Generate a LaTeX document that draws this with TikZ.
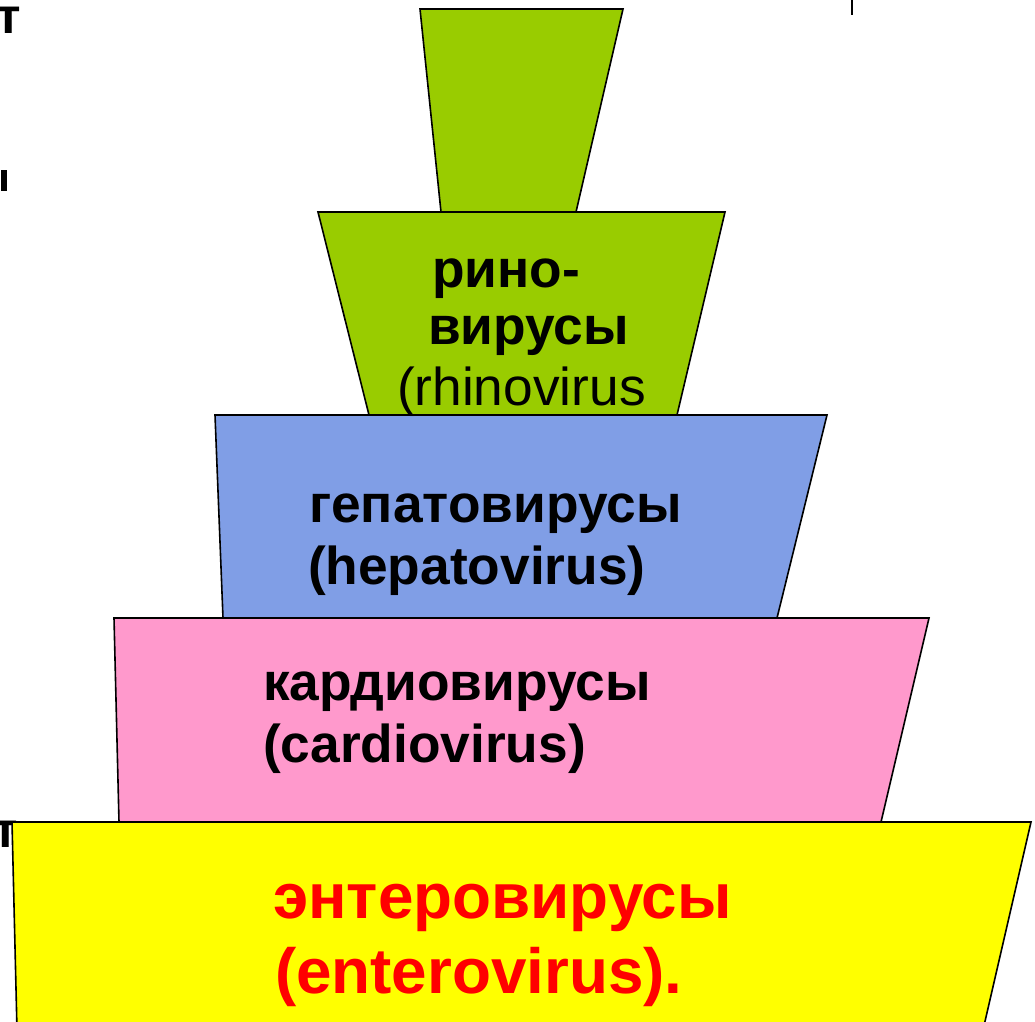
\documentclass[tikz,border=0pt]{standalone}
\usepackage{fontspec}
\setmainfont{Liberation Sans}
\definecolor{rhino}{RGB}{153,204,0}
\definecolor{hepato}{RGB}{128,158,230}
\definecolor{cardio}{RGB}{255,153,204}
\definecolor{entero}{RGB}{255,255,0}
\definecolor{enterotext}{RGB}{255,0,0}
\tikzset{
  tier/.style={draw=black, line width=1.6pt, line join=miter},
  lbl/.style={anchor=base west, inner sep=0pt, outer sep=0pt, font=\fontsize{53.3}{63}\selectfont\bfseries},
  lblreg/.style={anchor=base west, inner sep=0pt, outer sep=0pt, font=\fontsize{53.3}{63}\selectfont},
  lblbig/.style={anchor=base west, inner sep=0pt, outer sep=0pt, text=enterotext, font=\fontsize{63.8}{76}\selectfont\bfseries},
  frag/.style={anchor=base west, inner sep=0pt, outer sep=0pt, font=\fontsize{50}{60}\selectfont\bfseries}
}
\begin{document}
\begin{tikzpicture}[x=1pt,y=-1pt]
\useasboundingbox (0,0) rectangle (1035,1021);
\clip (0,0) rectangle (1035,1021);
% cut-off fragments at the edges
\node[frag] (fragA) at (-3,33) {т};
\fill[black] (1,170) rectangle (7,191);
\node[frag] (fragB) at (-6,847) {т};
\draw[line width=2pt] (852,0) -- (852,15);
% tiers
\filldraw[tier, fill=rhino] (420,9) -- (623,9) -- (576,212) -- (441,212) -- cycle;
\filldraw[tier, fill=rhino] (318,212) -- (725,212) -- (677,415) -- (369,415) -- cycle;
\filldraw[tier, fill=hepato] (215,415) -- (827,415) -- (777,618) -- (223,618) -- cycle;
\filldraw[tier, fill=cardio] (114,618) -- (929,618) -- (881,822) -- (119,822) -- cycle;
\filldraw[tier, fill=entero] (12,822) -- (1031,822) -- (983,1030) -- (17,1030) -- cycle;
% labels
\node[lbl] (rhA) at (432,287) {рино-};
\node[lbl] (rhB) at (428,344) {вирусы};
\node[lblreg] (rhC) at (397,405) {(rhinovirus};
\node[lbl] (hpA) at (309,522) {гепатовирусы};
\node[lbl] (hpB) at (308,584) {(hepatovirus)};
\node[lbl] (cdA) at (263,700) {кардиовирусы};
\node[lbl] (cdB) at (263,762) {(cardiovirus)};
\node[lblbig] (enA) at (273,918) {энтеровирусы};
\node[lblbig] (enB) at (275,993) {(enterovirus).};
\end{tikzpicture}
\end{document}
